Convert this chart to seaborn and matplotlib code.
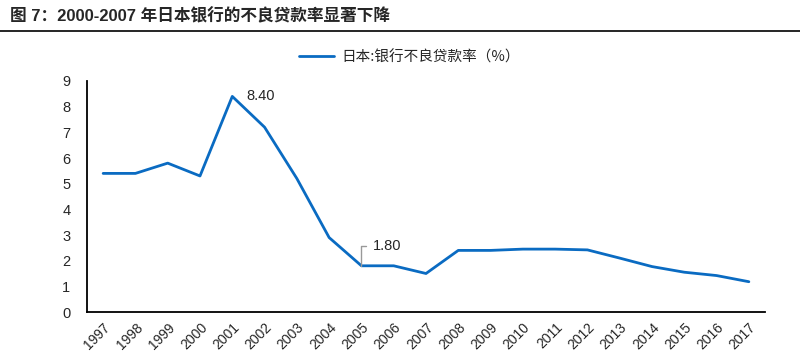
import numpy as np
import pandas as pd
import matplotlib
matplotlib.use("Agg")
import matplotlib.pyplot as plt
import seaborn as sns

# -----------------------------------
# DATA
# -----------------------------------
years = [str(y) for y in range(1997, 2018)]
npl_ratio = [5.40, 5.40, 5.80, 5.30, 8.40, 7.20, 5.20, 2.90, 1.80, 1.80, 1.50,
             2.40, 2.40, 2.45, 2.45, 2.42, 2.10, 1.77, 1.55, 1.42, 1.18]
series_name = "日本:银行不良贷款率（%）"
title = "图 7：2000-2007 年日本银行的不良贷款率显著下降"
labelled = {"2001": "8.40", "2005": "1.80"}

# -----------------------------------
# VISUAL SETTINGS
# -----------------------------------
sns.set_style("white")
plt.rcParams["font.family"] = ["Liberation Sans", "Noto Sans CJK SC", "DejaVu Sans"]
line_color = "#0A6BC2"

df = pd.DataFrame({"year": years, "value": npl_ratio})
df["pos"] = np.arange(len(df))

fig = plt.figure(figsize=(8, 3.55), dpi=100)
ax = fig.add_axes([87 / 800, 1 - 312 / 355, (765 - 87) / 800, (312 - 81) / 355])

sns.lineplot(data=df, x="pos", y="value", ax=ax, color=line_color,
             linewidth=2.0, label=series_name)

# axes
ax.set_xlim(-0.5, len(df) - 0.5)
ax.set_ylim(0, 9)
ax.set_yticks(range(0, 10))
ax.set_xticks(df["pos"])
ax.set_xticklabels(df["year"], rotation=45, ha="right", rotation_mode="anchor",
                   fontsize=10)
ax.set_xticks(np.arange(-0.5, len(df)), minor=True)
ax.tick_params(axis="x", which="major", length=0, pad=6)
ax.tick_params(axis="x", which="minor", length=4, width=1.2, color="black",
               direction="out")
ax.tick_params(axis="y", length=4, width=1.2, color="black", direction="out",
               labelsize=10.5, pad=8)
ax.set_xlabel("")
ax.set_ylabel("")
for side in ["top", "right"]:
    ax.spines[side].set_visible(False)
for side in ["left", "bottom"]:
    ax.spines[side].set_color("black")
    ax.spines[side].set_linewidth(1.3)

# annotations
i = years.index("2001")
ax.annotate(labelled["2001"], xy=(df["pos"][i], npl_ratio[i]),
            xytext=(10, 0), textcoords="offset points", fontsize=10.5,
            va="center", ha="left")
i = years.index("2005")
ax.annotate(labelled["2005"], xy=(df["pos"][i], npl_ratio[i]),
            xytext=(8, 14), textcoords="offset points", fontsize=10.5,
            va="center", ha="left",
            arrowprops=dict(arrowstyle="-", color="#999999", lw=1.0,
                            shrinkA=2, shrinkB=0,
                            connectionstyle="angle,angleA=180,angleB=90,rad=0"))

# legend
leg = ax.legend(loc="center", bbox_to_anchor=(0.476, 1.104), frameon=False,
                handlelength=2.4, handletextpad=0.5,
                prop={"family": ["Noto Sans CJK SC"], "size": 10.5})

# title and rule
fig.text(0.012, 0.955, title, fontsize=12, fontweight="bold",
         family=["Liberation Sans", "Noto Sans CJK SC"], va="center", ha="left")
fig.add_artist(plt.Line2D([0, 1], [1 - 31 / 355, 1 - 31 / 355], color="black",
                          linewidth=1.2))

fig.savefig("out.png", dpi=100)
